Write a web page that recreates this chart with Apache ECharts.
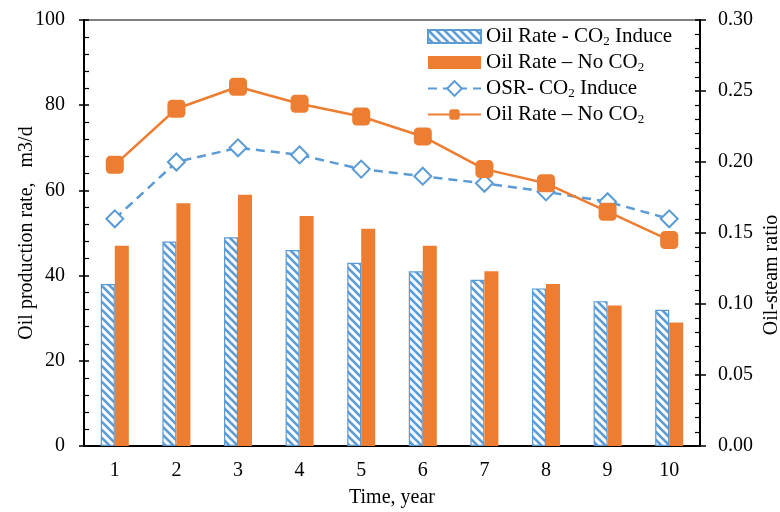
<!DOCTYPE html>
<html>
<head>
<meta charset="utf-8">
<script src="https://cdn.jsdelivr.net/npm/echarts@6/dist/echarts.min.js"></script>
<style>
html,body{margin:0;padding:0;background:#fff;overflow:hidden;width:780px;height:512px;}
#c{width:780px;height:512px;}
</style>
</head>
<body>
<div id="c"></div>
<script>
const categories = ['1','2','3','4','5','6','7','8','9','10'];
const oilInduce = [38, 48, 49, 46, 43, 41, 39, 37, 34, 32];
const oilNoCO2 = [47, 57, 59, 54, 51, 47, 41, 38, 33, 29];
const osrInduce = [0.160, 0.200, 0.210, 0.205, 0.195, 0.190, 0.185, 0.179, 0.172, 0.160];
const noCO2Line = [0.198, 0.2375, 0.253, 0.241, 0.232, 0.218, 0.195, 0.185, 0.165, 0.145];
const leftTicks = [0, 20, 40, 60, 80, 100];
const rightTicks = [0, 0.05, 0.10, 0.15, 0.20, 0.25, 0.30];

const legendNames = {
  s1: 'Oil Rate - CO{s|2} Induce',
  s2: 'Oil Rate \u2013 No CO{s|2}',
  s3: 'OSR- CO{s|2} Induce',
  s4: 'Oil Rate \u2013 No CO{s|2}'
};

const BLUE = '#5B9BD5';
const ORANGE = '#ED7D31';
const FONT = '"Liberation Serif", "Times New Roman", serif';

// hatch pattern
const pc = document.createElement('canvas');
pc.width = 8; pc.height = 8;
const g = pc.getContext('2d');
g.fillStyle = '#fbfbfb';
g.fillRect(0, 0, 8, 8);
g.strokeStyle = BLUE;
g.lineWidth = 2.6;
for (let k = -1; k <= 1; k++) {
  g.beginPath();
  g.moveTo(k * 8 - 1, -1);
  g.lineTo(k * 8 + 9, 9);
  g.stroke();
}
const hatch = { image: pc, repeat: 'repeat' };

const chart = echarts.init(document.getElementById('c'), null, { renderer: 'canvas', width: 780, height: 512 });

const tickStyle = { color: '#000', width: 1.5 };

const option = {
  animation: false,
  backgroundColor: '#fff',
  grid: {
    left: 84, right: 80, top: 20, bottom: 66,
    show: true, borderColor: '#000', borderWidth: 1.2,
    containLabel: false, outerBoundsMode: 'none'
  },
  legend: {
    orient: 'vertical',
    left: 427,
    top: 26,
    padding: 0,
    itemWidth: 53,
    itemHeight: 13,
    itemGap: 4,
    data: [
      { name: 's1', icon: 'rect' },
      { name: 's2', icon: 'rect' },
      { name: 's3' },
      { name: 's4' }
    ],
    formatter: n => legendNames[n],
    textStyle: {
      color: '#000', fontFamily: FONT, fontSize: 21,
      rich: {
        s: { fontFamily: FONT, fontSize: 13, padding: [10, 0, 0, 0], color: '#000' }
      }
    }
  },
  xAxis: {
    type: 'category',
    data: categories,
    boundaryGap: true,
    name: 'Time, year',
    nameLocation: 'middle',
    nameGap: 42,
    nameMoveOverlap: false,
    nameTextStyle: { color: '#000', fontFamily: FONT, fontSize: 20 },
    axisLine: { show: true, lineStyle: { color: '#000', width: 2 } },
    axisTick: { show: false },
    axisLabel: { color: '#000', fontFamily: FONT, fontSize: 20, margin: 15 },
    splitLine: { show: false }
  },
  yAxis: [
    {
      type: 'value', position: 'left',
      min: leftTicks[0], max: leftTicks[leftTicks.length - 1], interval: 20,
      name: 'Oil production rate,   m3/d', nameLocation: 'middle', nameGap: 47,
      nameMoveOverlap: false,
      nameTextStyle: { color: '#000', fontFamily: FONT, fontSize: 20 },
      axisLine: { show: true, lineStyle: { color: '#000', width: 2 } },
      splitLine: { show: false },
      axisTick: { show: true, inside: true, length: 5, lineStyle: tickStyle },
      minorTick: { show: true, splitNumber: 5, length: 5, lineStyle: { color: '#000', width: 1.2 } },
      axisLabel: { color: '#000', fontFamily: FONT, fontSize: 20, margin: 19 }
    },
    {
      type: 'value', position: 'right',
      min: rightTicks[0], max: rightTicks[rightTicks.length - 1], interval: 0.05,
      name: 'Oil-steam ratio', nameLocation: 'middle', nameGap: 62,
      nameMoveOverlap: false,
      nameTextStyle: { color: '#000', fontFamily: FONT, fontSize: 20, padding: [0, 84, 0, 0] },
      axisLine: { show: true, lineStyle: { color: '#000', width: 2 } },
      splitLine: { show: false },
      axisTick: { show: true, inside: true, length: 5, lineStyle: tickStyle },
      minorTick: { show: true, splitNumber: 5, length: 5, lineStyle: { color: '#000', width: 1.2 } },
      axisLabel: { color: '#000', fontFamily: FONT, fontSize: 20, margin: 18, formatter: v => v.toFixed(2) }
    },
    {
      type: 'value', position: 'left', min: 0, max: 100, interval: 20,
      axisLine: { show: false }, axisLabel: { show: false }, splitLine: { show: false },
      axisTick: { show: true, inside: false, length: 5, lineStyle: tickStyle }
    },
    {
      type: 'value', position: 'right', min: 0, max: 0.3, interval: 0.05,
      axisLine: { show: false }, axisLabel: { show: false }, splitLine: { show: false },
      axisTick: { show: true, inside: false, length: 6, lineStyle: tickStyle }
    }
  ],
  series: [
    {
      name: 's1', type: 'bar', yAxisIndex: 0, data: oilInduce,
      barWidth: 14, barGap: '0%',
      itemStyle: { color: hatch, borderColor: BLUE, borderWidth: 1.2 }
    },
    {
      name: 's2', type: 'bar', yAxisIndex: 0, data: oilNoCO2,
      barWidth: 14, barGap: '0%',
      itemStyle: { color: ORANGE }
    },
    {
      name: 's3', type: 'line', yAxisIndex: 1, data: osrInduce,
      symbol: 'rect', symbolSize: 12, symbolRotate: 45,
      lineStyle: { color: BLUE, width: 2.5, type: [9, 6] },
      itemStyle: { color: '#fff', borderColor: BLUE, borderWidth: 2 },
      z: 3
    },
    {
      name: 's4', type: 'line', yAxisIndex: 1, data: noCO2Line,
      symbol: 'roundRect', symbolSize: 18,
      lineStyle: { color: ORANGE, width: 2.5 },
      itemStyle: { color: ORANGE, borderWidth: 0 },
      z: 4
    }
  ]
};
chart.setOption(option);
</script>
</body>
</html>
